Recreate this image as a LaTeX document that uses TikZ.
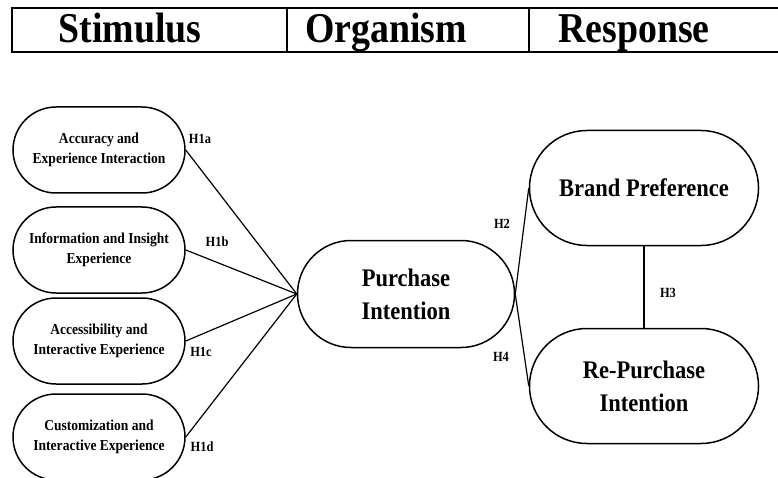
\documentclass[tikz,border=0pt]{standalone}
\usepackage{fontspec}
\setmainfont{Liberation Serif}[FakeStretch=0.89]
\usetikzlibrary{shapes.misc}

\begin{document}
\begin{tikzpicture}[x=1pt, y=-1pt,
        head/.style={font=\fontsize{42.5}{44}\selectfont\bfseries, inner sep=0pt},
        smallbox/.style={rounded rectangle, draw, line width=1.5pt, minimum width=172pt, minimum height=86pt, align=center, inner sep=0pt, font=\fontsize{15.2}{20}\selectfont\bfseries},
        bigbox/.style={rounded rectangle, draw, line width=1.5pt, align=center, inner sep=0pt, font=\fontsize{25.3}{33}\selectfont\bfseries},
        hlabel/.style={font=\fontsize{14}{16}\selectfont\bfseries, inner sep=0pt},
        link/.style={line width=1.2pt}]

        \useasboundingbox (0,0) rectangle (778,478);

        % Header row
        \draw[line width=1.5pt] (778,8) -- (12,8) -- (12,52) -- (778,52);
        \draw[line width=1.2pt] (287,8) -- (287,52);
        \draw[line width=1.2pt] (529,8) -- (529,52);
        \node[head, anchor=base] (stim) at (130,42.5) {Stimulus};
        \node[head, anchor=base] (org) at (386,42.5) {Organism};
        \node[head, anchor=base] (resp) at (634,42.5) {Response};

        % Stimulus layer
        \node[smallbox] (acc) at (99,150) {Accuracy and\\Experience Interaction};
        \node[smallbox] (info) at (99,250) {Information and Insight\\Experience};
        \node[smallbox] (access) at (99,341) {Accessibility and\\Interactive Experience};
        \node[smallbox] (custom) at (99,437) {Customization and\\Interactive Experience};

        % Organism
        \node[bigbox, minimum width=217pt, minimum height=107pt] (pi) at (406,294) {Purchase\\Intention};

        % Response layer
        \node[bigbox, minimum width=229pt, minimum height=115pt] (bp) at (644,188) {Brand Preference};
        \node[bigbox, minimum width=229pt, minimum height=115pt] (rpi) at (644,386) {Re-Purchase\\Intention};

        % Links
        \draw[link] (acc.east) -- (pi.west);
        \draw[link] (info.east) -- (pi.west);
        \draw[link] (access.east) -- (pi.west);
        \draw[link] (custom.east) -- (pi.west);

        \draw[link] (pi.east) -- (bp.west);
        \draw[link] (pi.east) -- (rpi.west);
        \draw[link] (bp.south) -- (rpi.north);

        % Hypotheses
        \node[hlabel] (h1a) at (200,139) {H1a};
        \node[hlabel] (h1b) at (217,242) {H1b};
        \node[hlabel] (h1c) at (201,352) {H1c};
        \node[hlabel] (h1d) at (202,447) {H1d};
        \node[hlabel] (h2) at (502,224) {H2};
        \node[hlabel] (h3) at (668,293) {H3};
        \node[hlabel] (h4) at (501,357) {H4};

    \end{tikzpicture}
\end{document}
